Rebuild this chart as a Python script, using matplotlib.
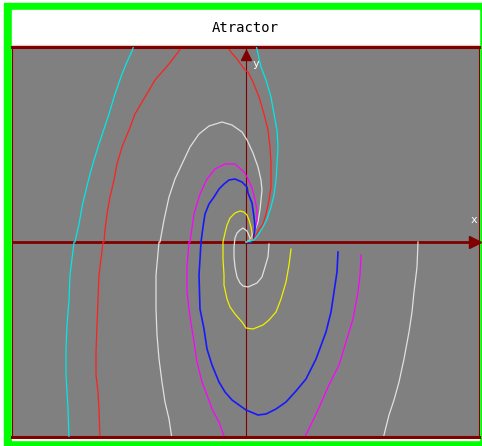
import numpy as np
import matplotlib
matplotlib.use("Agg")
import matplotlib.pyplot as plt
from matplotlib.patches import Rectangle

nan = np.nan

# trajectories (origin at the axes crossing, y up);
# NaN breaks the parts that leave the window
cyan_x = [-177, -178, -179, -180, -180, -179, -177, -176, -174, -172,
          -171, -167, -164, -160, -156, -152, -147, -142, -137, -131, -124, -119, -114, -112, nan,
          10, 15, 20, 25, 28, 31, 32, 31, 30, 28, 25, 21, 17, 12, 8, 0]
cyan_y = [-197, -167, -150, -133, -107, -83, -58, -33, -17, 0,
          0, 18, 35, 52, 68, 82, 98, 113, 128, 148, 168, 180, 191, 197, nan,
          197, 175, 162, 145, 128, 112, 95, 78, 62, 47, 35, 23, 15, 7, 2, 0]

red_x = [-146, -147, -148, -150, -150, -149, -148, -147, -145, -143,
         -142, -141, -139, -136, -132, -129, -124, -117, -111, -101, -91, -77, -67, -64, nan,
         -19, -16, -9, -1, 2, 7, 13, 18, 22, 24, 25, 25, 23, 20, 17, 13, 7, 0]
red_y = [-197, -167, -150, -133, -110, -83, -58, -33, -17, 0,
         0, 12, 28, 45, 62, 78, 95, 112, 128, 145, 162, 178, 191, 197, nan,
         197, 191, 183, 172, 170, 160, 145, 128, 112, 95, 78, 55, 42, 28, 18, 12, 2, 0]

white_x = [172, 171, 168, 166, 163, 158, 153, 148, 143, 137, nan,
           -74, -77, -81, -84, -87, -89, -90, -90, -87,
           -86, -82, -77, -71, -64, -56, -47, -37, -24, -14, -4,
           1, 7, 12, 15, 16, 15, 14, 12, 9, 4, 0]
white_y = [0, -25, -50, -70, -90, -117, -140, -158, -173, -197, nan,
           -197, -177, -160, -140, -117, -93, -67, -33, 0,
           0, 22, 45, 63, 78, 95, 108, 116, 120, 117, 110,
           102, 89, 75, 62, 52, 42, 32, 20, 12, 2, 0]

white2_x = [23, 22, 19, 16, 11, 2, -3, -6, -9, -11, -12, -12, -11, -9, -6, -3, 1, 2, 4, 5, 0]
white2_y = [-2, -15, -25, -35, -41, -45, -44, -41, -35, -25, -15, -5, 4, 9, 12, 14, 11, 9, 4, 0, 0]

magenta_x = [115, 114, 112, 107, 100, 93, 83, 72, 58, nan,
             -21, -27, -34, -39, -44, -49, -52, -56, -59, -59, -57,
             -56, -52, -46, -39, -31, -21, -11, -2,
             1, 6, 9, 11, 11, 9, 7, 3, 0]
magenta_y = [-13, -33, -50, -77, -100, -123, -143, -168, -197, nan,
             -197, -180, -167, -153, -140, -120, -100, -75, -50, -25, 0,
             0, 28, 48, 63, 73, 78, 78, 70,
             65, 54, 42, 32, 22, 12, 5, 0, 0]

blue_x = [92, 91, 88, 85, 80, 70, 60, 50, 40, 30, 20, 12, 0,
          -7, -14, -21, -27, -34, -39, -42, -46, -47, -46, -45,
          -43, -41, -37, -32, -27, -22, -17, -11, -4, 1,
          2, 6, 8, 9, 8, 5, 0]
blue_y = [-10, -30, -50, -70, -90, -117, -137, -149, -160, -167, -172, -173, -168,
          -163, -158, -150, -140, -123, -107, -87, -67, -33, -17, 0,
          15, 28, 38, 45, 53, 58, 62, 63, 60, 55,
          49, 39, 25, 15, 7, 0, 0]

yellow_x = [45, 43, 40, 35, 30, 23, 17, 7, 0,
            -4, -11, -16, -19, -22, -22, -23, -23,
            -21, -19, -16, -11, -6, -2, 1, 3, 5, 6, 6, 0]
yellow_y = [-7, -23, -40, -57, -70, -78, -83, -87, -86,
            -80, -72, -65, -57, -43, -33, -17, 0,
            9, 17, 24, 29, 31, 30, 27, 22, 15, 9, 2, 0]

W, H = 482, 446
fig = plt.figure(figsize=(W / 100, H / 100), dpi=100)
fig.patch.set_facecolor("white")


def px_rect(x0, y0, x1, y1, color):
    fig.patches.append(Rectangle((x0 / W, 1 - y1 / H), (x1 - x0) / W, (y1 - y0) / H,
                                 transform=fig.transFigure, color=color, zorder=-5))


px_rect(4, 3, 482, 446, "#00ff00")
px_rect(12, 10, 479, 440, "white")
px_rect(12, 45, 479, 47, "#e8d0d0")
fig.text(245 / W, 1 - 28 / H, "Atractor", ha="center", va="center",
         family="DejaVu Sans Mono", fontsize=10, color="black")

ax = fig.add_axes([12 / W, 1 - 437 / H, 467 / W, 390 / H])
ax.set_facecolor("#808080")
ax.set_xlim(-234, 233)
ax.set_ylim(-195, 195)
ax.set_xticks([])
ax.set_yticks([])
for side, spine in ax.spines.items():
    spine.set_color("#800000")
    spine.set_linewidth(2.2 if side in ("top", "bottom") else 0.8)

ax.axhline(0, color="#800000", lw=2.0, zorder=1)
ax.axvline(0, color="#800000", lw=0.8, zorder=1)
ax.plot([229], [0], marker=">", ms=8, color="#800000", clip_on=False, zorder=5)
ax.plot([0], [187], marker="^", ms=7, color="#800000", clip_on=False, zorder=5)
ax.text(228, 22, "x", color="white", family="DejaVu Sans Mono", fontsize=8,
        ha="center", va="center")
ax.text(10, 178, "y", color="white", family="DejaVu Sans Mono", fontsize=8,
        ha="center", va="center")

ax.plot(white_x, white_y, color="#e0e0e0", lw=0.9, zorder=2)
ax.plot(white2_x, white2_y, color="#e0e0e0", lw=0.9, zorder=2)
ax.plot(red_x, red_y, color="#ff2020", lw=0.9, zorder=2)
ax.plot(magenta_x, magenta_y, color="#ff00ff", lw=0.9, zorder=2)
ax.plot(blue_x, blue_y, color="#1818ff", lw=1.2, zorder=2)
ax.plot(yellow_x, yellow_y, color="#f0f000", lw=0.9, zorder=2)
ax.plot(cyan_x, cyan_y, color="#00e8e8", lw=0.9, zorder=3)

fig.savefig("out.png", dpi=100)
